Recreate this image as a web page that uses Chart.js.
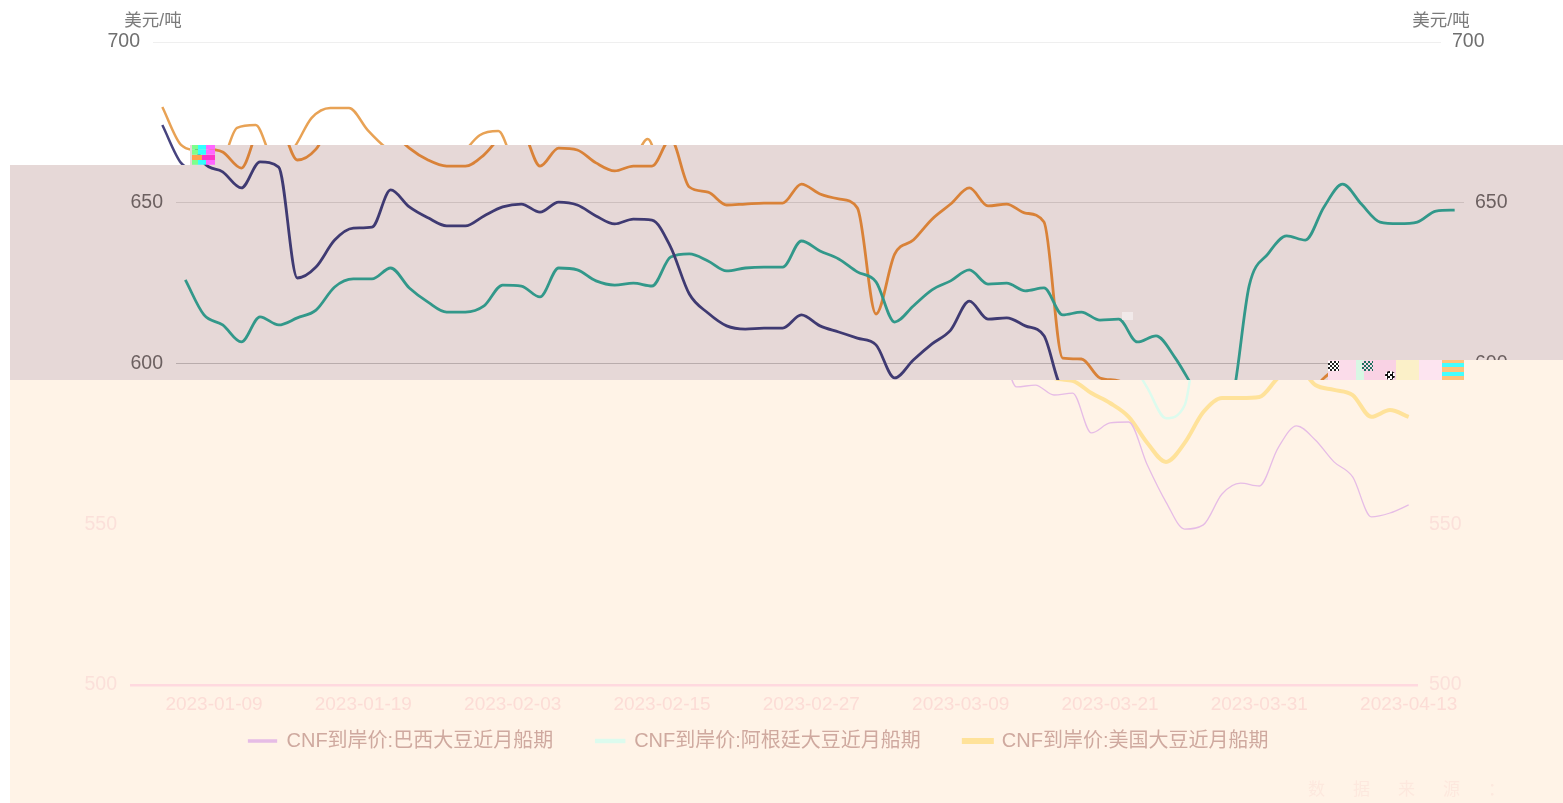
<!DOCTYPE html>
<html lang="zh">
<head>
<meta charset="utf-8">
<style>
html,body{margin:0;padding:0;background:#fff;overflow:hidden}
#stage{position:relative;width:1563px;height:803px;overflow:hidden;background:#fff}
.band{position:absolute;left:0;top:0;width:1563px;height:803px}
.band canvas{position:absolute;top:0;filter:blur(.45px)}
.glitch{position:absolute}
</style>
<script src="https://cdn.jsdelivr.net/npm/chart.js@4/dist/chart.umd.min.js"></script>
</head>
<body>
<div id="stage">
  <div class="band" id="b1" style="background:#fff;clip-path:polygon(0 0,1563px 0,1563px 145px,190px 145px,190px 165px,0 165px)"><canvas id="c1" width="1563" height="803"></canvas></div>
  <div class="band" id="b2" style="background:#e6d8d7;clip-path:polygon(190px 145px,1563px 145px,1563px 360px,1328px 360px,1328px 380px,10px 380px,10px 165px,190px 165px)"><canvas id="c2" width="1563" height="803"></canvas></div>
  <div class="band" id="b3" style="background:#fff3e7;clip-path:polygon(1328px 360px,1563px 360px,1563px 803px,10px 803px,10px 380px,1328px 380px)"><canvas id="c3" width="1563" height="803"></canvas></div>
  <div class="glitch" style="left:192px;top:145px;width:23px;height:20px;background:linear-gradient(90deg,#7dff8c 0 25%,#3ff 25% 60%,#f6f 60%);background-size:100% 100%;-webkit-mask:repeating-linear-gradient(180deg,#000 0 4px,rgba(0,0,0,.75) 4px 5px)"></div>
  <div class="glitch" style="left:192px;top:155px;width:23px;height:5px;background:linear-gradient(90deg,#ffa04d 0 45%,#f3c 45%)"></div>
  <div class="glitch" style="left:1328px;top:360px;width:114px;height:20px;background:linear-gradient(90deg,#fbdcea 0 25%,#d8f7e4 25% 32%,#f9d2e4 32% 60%,#fbf0c8 60% 80%,#fde4f0 80%)"></div>
  <div class="glitch" style="left:1328px;top:361px;width:11px;height:10px;background:repeating-conic-gradient(#222 0 25%,#fff 0 50%) 0 0/4px 4px"></div>
  <div class="glitch" style="left:1362px;top:361px;width:11px;height:10px;background:repeating-conic-gradient(#1f6f60 0 25%,#f7d9e8 0 50%) 0 0/4px 4px"></div>
  <div class="glitch" style="left:1385px;top:371px;width:10px;height:9px;background:repeating-conic-gradient(#111 0 25%,#fff 0 50%) 0 0/5px 5px;border-radius:50%"></div>
  <div class="glitch" style="left:1442px;top:360px;width:22px;height:20px;background:linear-gradient(180deg,#ffc27a 0 15%,#4ff 15% 35%,#ffc27a 35% 60%,#4ff 60% 80%,#ffc27a 80%)"></div>
  <div class="glitch" style="left:1122px;top:312px;width:11px;height:8px;background:#f4eeee;opacity:.8"></div>
</div>
<script>
const dates = ["2023-01-03","2023-01-04","2023-01-05","2023-01-06","2023-01-09","2023-01-10","2023-01-11","2023-01-12","2023-01-13","2023-01-16","2023-01-17","2023-01-18","2023-01-19","2023-01-20","2023-01-28","2023-01-29","2023-01-30","2023-01-31","2023-02-01","2023-02-02","2023-02-03","2023-02-06","2023-02-07","2023-02-08","2023-02-09","2023-02-10","2023-02-13","2023-02-14","2023-02-15","2023-02-16","2023-02-17","2023-02-20","2023-02-21","2023-02-22","2023-02-23","2023-02-24","2023-02-27","2023-02-28","2023-03-01","2023-03-02","2023-03-03","2023-03-06","2023-03-07","2023-03-08","2023-03-09","2023-03-10","2023-03-13","2023-03-14","2023-03-15","2023-03-16","2023-03-17","2023-03-20","2023-03-21","2023-03-22","2023-03-23","2023-03-24","2023-03-27","2023-03-28","2023-03-29","2023-03-30","2023-03-31","2023-04-03","2023-04-04","2023-04-06","2023-04-07","2023-04-10","2023-04-11","2023-04-12","2023-04-13"];
const brazil = [674.2,662.4,659.6,654.6,662.7,661.1,626.6,630,638.4,642.1,642.4,654,648.7,645.3,642.8,642.8,645.9,648.7,649.6,647.1,650.2,649.3,645.9,643.4,644.9,644.6,636.2,621.6,615.7,611.7,610.7,611,611,615.1,611.7,609.8,607.9,605.8,595.5,601.1,606.1,610.4,619.4,613.8,614.2,611.7,608.6,592.7,593.3,590.2,590.8,578.4,581.5,581.8,568.4,556.9,548.5,549.8,559.4,562.8,561.9,573.7,580.6,576.2,569.4,564.7,552.3,553.5,556];
const argentina = [626,615.1,612,606.7,614.5,612,614.2,616.6,623.8,626.3,626.3,629.7,623.5,619.1,616,616,617.9,624.4,624.1,620.7,629.7,629.1,625.7,624.4,625,624.1,633.1,634.1,631.9,628.8,629.7,630,630,638.1,635,632.5,628.5,625.4,612.9,617.9,622.9,625.7,629.1,624.7,625,622.6,623.5,615.1,616,613.5,613.8,606.7,608.6,602,592.4,583,587,624.4,634.1,639.7,638.4,648.7,655.8,649.6,644,643.5,644,647.4,647.7];
const usa = [679.8,668,665.8,660.8,673.3,674.2,663.3,666.7,676.4,679.5,679.5,672.6,667,663.3,661.4,661.4,664.9,671,672.3,661.4,667,666.4,662.4,659.9,661.4,661.4,669.8,654.9,653.3,649.3,649.6,649.9,649.9,655.8,652.7,651.2,648.4,615.4,634,638.4,644.9,649.6,654.6,649,649.6,646.8,644,601.7,601.4,595.5,594.6,590.8,587.7,583.4,575.3,569.4,575.3,584.9,589.3,589.3,589.6,595.5,599.2,593.3,591.8,590.2,583.4,585.5,583.4];
const seriesNames = ["CNF到岸价:巴西大豆近月船期","CNF到岸价:阿根廷大豆近月船期","CNF到岸价:美国大豆近月船期"];
const yTicks = [500,550,600,650,700];
const unitLabel = "美元/吨";
const sourceLabel = "数据来源：";

const FONT = '"Liberation Sans", Arial, "Noto Sans CJK SC", sans-serif';
const PLOT_LEFT = 153, PLOT_RIGHT = 1441, PLOT_TOP = 42, PLOT_BOTTOM = 685, LEGEND_TOP = 688;

const themes = [
 {id:"c1",dx:0,
  colors:["#47447f","#2f9a85","#e8a255"],widths:[2.5,2.5,2.5],
  yShow:[700],grid:{700:"#efefef"},yColor:"#6f6f6f",showX:false,legend:false,title:true},
 {id:"c2",dx:23,
  colors:["#3f3a72","#32988a","#d98238"],widths:[2.8,2.8,2.8],
  yShow:[650,600],grid:{650:"#cdbfbe",600:"#b9acac"},yColor:"#6c6060",showX:false,legend:false,title:false},
 {id:"c3",dx:-23,
  colors:["#e6bce6","#dcfbee","#ffe29a"],widths:[1.3,2.5,4],
  yShow:[550,500],grid:{500:"#ffd9df"},yColor:"#fbe0da",showX:true,legend:true,title:false}
];

const bandPlugin = {
 id:"bandPlugin",
 afterLayout(c){
  if(c.options.plugins.legend.display){
    const h=c.legend.height; c.legend.top=LEGEND_TOP; c.legend.bottom=LEGEND_TOP+h;
  }
 },
 afterDraw(c,args,opts){
  const ctx=c.ctx; ctx.save();
  if(opts.title){
    ctx.font='17.5px '+FONT; ctx.fillStyle="#7a7a7a"; ctx.textAlign="center"; ctx.textBaseline="middle";
    ctx.fillText(unitLabel,c.scales.y.right,21);
    ctx.fillText(unitLabel,c.scales.y1.left,21);
  }
  if(opts.source){
    ctx.font='17px '+FONT; ctx.fillStyle="#fde8de"; ctx.textAlign="left"; ctx.textBaseline="middle";
    ctx.letterSpacing="28px";
    ctx.fillText(sourceLabel,1331,790);
  }
  ctx.restore();
 }
};

themes.forEach(t=>{
 const el=document.getElementById(t.id);
 el.style.left=t.dx+"px";
 const tickCb=v=>t.yShow.includes(v)?String(v):"";
 const afterBuild=s=>{s.ticks=yTicks.map(v=>({value:v}));};
 new Chart(el,{
  type:"line",
  plugins:[bandPlugin],
  data:{labels:dates,datasets:[brazil,argentina,usa].map((d,i)=>({
    label:seriesNames[i],data:d,yAxisID:"y",
    borderColor:t.colors[i],backgroundColor:t.colors[i],borderWidth:t.widths[i],
    pointRadius:0,pointHoverRadius:0,cubicInterpolationMode:"monotone",fill:false,clip:false
  }))},
  options:{
   responsive:false,animation:false,devicePixelRatio:1,
   layout:{autoPadding:false,padding:{top:PLOT_TOP,bottom:0,left:0,right:0}},
   plugins:{
    tooltip:{enabled:false},
    legend:{display:t.legend,position:"bottom",labels:{
      boxWidth:28,boxHeight:2,padding:43,color:"#cfa99f",font:{family:FONT,size:20}
    }},
    bandPlugin:{title:t.title,source:t.legend}
   },
   scales:{
    x:{type:"category",offset:true,
      afterFit:s=>{s.height=803-PLOT_BOTTOM-(t.legend?s.chart.legend.height:0);},
      border:{display:false},grid:{display:false,drawTicks:false},
      ticks:{display:t.showX,color:"#fcdcd6",font:{family:FONT,size:19},padding:8,autoSkip:false,maxRotation:0,
        callback:function(v,i){return i%8===4?this.getLabelForValue(v):"";}}},
    y:{position:"left",min:500,max:700,afterBuildTicks:afterBuild,
      afterFit:s=>{s.width=PLOT_LEFT;},
      border:{display:false},
      grid:{drawTicks:false,lineWidth:c=>c.tick.value===500?2.5:1,color:c=>t.grid[c.tick.value]||"rgba(0,0,0,0)"},
      ticks:{color:t.yColor,font:{family:FONT,size:19.5},padding:13,callback:tickCb}},
    y1:{position:"right",min:500,max:700,afterBuildTicks:afterBuild,
      afterFit:s=>{s.width=1563-PLOT_RIGHT;},
      border:{display:false},grid:{display:false,drawTicks:false},
      ticks:{color:t.yColor,font:{family:FONT,size:19.5},padding:11,callback:tickCb}}
   }
  }
 });
});
</script>
</body>
</html>
